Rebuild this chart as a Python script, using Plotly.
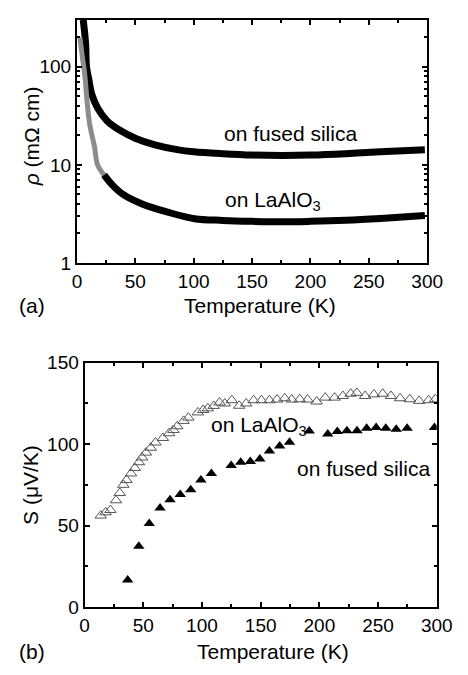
import plotly.graph_objects as go

# ---- Panel (a): resistivity vs temperature ----
T_fs = [5.4, 7.4, 8.2, 10.1, 12.8, 17.7, 25.9, 36.8, 50.4, 66.8, 85.8, 100, 125, 150, 176, 200, 230, 260, 298]
rho_fs = [300, 174, 100, 75, 52, 38, 28, 22.5, 18.6, 16, 14.3, 13.6, 13.0, 12.6, 12.5, 12.6, 13.0, 13.6, 14.3]

T_la_low = [2.5, 4.5, 6.8, 8.7, 10.9, 15.0, 17.7, 23.2]
rho_la_low = [200, 130, 81, 44, 26, 15.4, 10, 7.9]
T_la = [23.2, 30, 39.5, 55.8, 77.7, 100.8, 125, 150, 176, 200, 230, 260, 298]
rho_la = [7.9, 6.3, 5.0, 4.0, 3.3, 2.83, 2.72, 2.66, 2.63, 2.66, 2.73, 2.85, 3.05]

# ---- Panel (b): Seebeck coefficient ----
T_S_la = [13.8, 17.9, 22, 26.8, 30, 33, 35.7, 39.6, 42.8, 46.3, 49, 52.3, 56.4, 60.4, 66.7, 72, 75.7, 79,
          84.3, 88.4, 96.5, 101, 105, 110, 115, 119.5, 125.4, 131.7, 137.7, 144, 150.7, 157.5, 164, 170.5,
          176.5, 183.3, 190, 197.7, 205, 213, 220, 226.7, 232, 239, 246.5, 254, 261, 268.8, 277, 285, 293, 298.7]
S_la = [56.1, 58.1, 59.5, 65.5, 70, 75, 78, 82, 85.3, 88.9, 91.8, 94.8, 97.8, 101, 103.8, 106.7, 108.7, 111,
        114.3, 116.3, 119.5, 121, 122, 123.5, 125.6, 125, 127, 123.6, 125, 127, 127, 127, 127.4, 128.2,
        127.4, 127.6, 127.4, 126.2, 128.6, 128.6, 129.6, 131, 131.5, 129.6, 130.6, 131, 129.6, 128.2, 127.6, 126.6, 127, 127.6]

T_S_fs = [36.7, 46.2, 55.1, 64.3, 72.8, 81.5, 90.4, 99.1, 108, 124.9, 133, 141.2, 149.3, 157.5, 166.2, 174.6,
          191.4, 207.2, 215.3, 223.5, 232.1, 240.3, 248.4, 256.6, 265.5, 274.8, 298.1]
S_fs = [16.5, 37.3, 51.2, 60.7, 65.9, 69, 72, 78, 82, 86.9, 88.9, 89.3, 90.9, 95.8, 98.8, 101.2,
        108.1, 106.3, 107.7, 108.3, 108.3, 109.7, 110.3, 109.7, 109.1, 109.7, 110.3]

x_ticks = [0, 50, 100, 150, 200, 250, 300]
rho_ticks = [1, 10, 100]
rho_minor = [2, 3, 4, 5, 6, 7, 8, 9, 20, 30, 40, 50, 60, 70, 80, 90, 200, 300]
S_ticks = [0, 50, 100, 150]

# page body has an 8 px default margin; size the figure to fill the rest of the window
OFF = 8
W, H = 468 - OFF, 675 - OFF
FONT = "Liberation Sans, Arial, sans-serif"

fig = go.Figure()

fig.add_trace(go.Scatter(x=T_fs, y=rho_fs, mode="lines", line=dict(color="black", width=7, shape="spline"),
                         xaxis="x", yaxis="y", showlegend=False))
fig.add_trace(go.Scatter(x=T_la_low, y=rho_la_low, mode="lines", line=dict(color="#8c8c8c", width=5, shape="spline"),
                         xaxis="x", yaxis="y", showlegend=False))
fig.add_trace(go.Scatter(x=T_la, y=rho_la, mode="lines", line=dict(color="black", width=7, shape="spline"),
                         xaxis="x", yaxis="y", showlegend=False))

fig.add_trace(go.Scatter(x=T_S_la, y=S_la, mode="markers",
                         marker=dict(symbol="triangle-up-open", size=10, color="#555555", line=dict(width=1)),
                         xaxis="x2", yaxis="y2", showlegend=False))
fig.add_trace(go.Scatter(x=T_S_fs, y=S_fs, mode="markers",
                         marker=dict(symbol="triangle-up", size=10, color="black"),
                         xaxis="x2", yaxis="y2", showlegend=False))

def px(x):
    return (x - OFF) / W

def py(y):
    return 1 - (y - OFF) / H

axis_common = dict(showline=True, linecolor="black", linewidth=2, mirror="ticks", ticks="inside",
                   ticklen=5, tickwidth=1.5, tickcolor="black", showgrid=False, zeroline=False,
                   tickfont=dict(family=FONT, size=19, color="black"))

minor_lin = dict(ticks="inside", ticklen=3, tickwidth=1.5, tickcolor="black", dtick=25, tick0=0)

fig.update_layout(
    width=W, height=H, margin=dict(l=0, r=0, t=0, b=0),
    paper_bgcolor="white", plot_bgcolor="white",
    xaxis=dict(domain=[px(75), px(442)], anchor="y", range=[0, 300], tickvals=x_ticks,
               minor=minor_lin, **axis_common),
    yaxis=dict(domain=[py(261), py(10)], anchor="x", type="log", range=[0, 2.477], tickvals=rho_ticks,
               minor=dict(ticks="inside", ticklen=3, tickwidth=1.5, tickcolor="black", tickvals=rho_minor),
               **axis_common),
    xaxis2=dict(domain=[px(83), px(452)], anchor="y2", range=[0, 300], tickvals=x_ticks,
                minor=minor_lin, **axis_common),
    yaxis2=dict(domain=[py(616), py(364)], anchor="x2", range=[0, 150], tickvals=S_ticks,
                minor=minor_lin, **axis_common),
)

def ann(text, x, y, size=21, angle=0, xanchor="center"):
    fig.add_annotation(text=text, x=px(x), y=py(y), xref="paper", yref="paper", showarrow=False,
                       xanchor=xanchor, yanchor="middle", textangle=angle,
                       font=dict(family=FONT, size=size, color="black"))

ann("on fused silica", 299, 127)
ann("on LaAlO<sub>3</sub>", 228, 197, xanchor="left")
ann("Temperature (K)", 267, 305)
ann("(a)", 28, 305)
ann("<i>ρ</i> (mΩ cm)", 27, 130, angle=-90)

ann("on LaAlO<sub>3</sub>", 213, 429, xanchor="left")
ann("on fused silica", 375, 473)
ann("Temperature (K)", 280, 662)
ann("(b)", 28, 662)
ann("S (μV/K)", 27, 490, angle=-90)

fig.write_html("out.html")
